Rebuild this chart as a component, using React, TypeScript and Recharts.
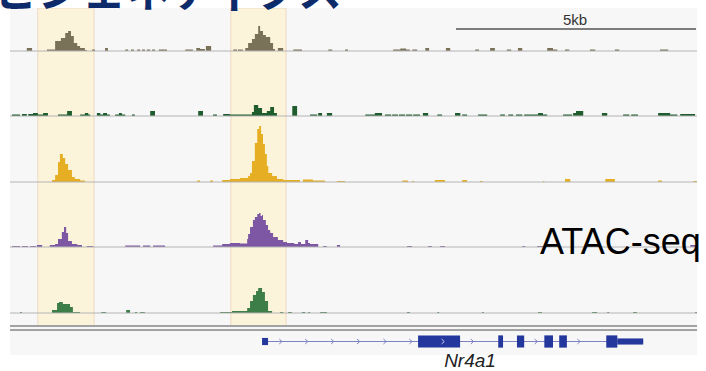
import {
  ComposedChart,
  Area,
  Line,
  Scatter,
  XAxis,
  YAxis,
  ReferenceArea,
  ReferenceLine,
} from "recharts";

// [start kb, signal] — signal holds until the next entry (bedGraph style)
type Step = [number, number];

const regionEnd = 14.31;

const track1: Step[] = [
  [0.35, 3], [0.46, 0],
  [0.77, 1.5], [0.94, 10], [1.06, 13], [1.15, 18], [1.21, 20], [1.27, 15], [1.33, 8], [1.4, 5], [1.46, 3], [1.56, 1], [1.6, 0],
  [1.71, 1.5], [1.77, 0], [1.98, 3], [2.04, 0],
  [2.4, 1.5], [2.46, 0], [2.52, 1.5], [2.58, 0], [2.65, 1.5], [2.71, 0], [2.75, 1.5], [2.81, 0],
  [2.85, 1.5], [2.92, 0], [2.96, 1.5], [3.02, 0], [3.1, 1.5], [3.27, 0],
  [3.65, 1.5], [3.81, 0], [3.88, 3], [3.96, 2], [4.06, 0], [4.08, 5], [4.19, 0],
  [4.65, 1.5], [4.73, 0], [4.75, 1.5], [4.85, 0],
  [4.9, 3], [4.96, 8], [5.04, 12], [5.1, 17], [5.17, 25], [5.21, 20], [5.27, 16], [5.33, 14], [5.42, 8], [5.48, 2], [5.52, 0],
  [5.58, 3], [5.69, 0], [5.9, 1.5], [6.08, 0],
  [6.63, 1.5], [6.71, 0], [6.98, 1.5], [7.04, 0],
  [7.98, 1.5], [8.13, 2.5], [8.25, 1.5], [8.33, 0], [8.38, 1.5], [8.48, 0],
  [8.65, 3], [8.73, 0], [9.08, 3], [9.17, 0], [9.69, 1.5], [9.77, 0],
  [10.0, 3], [10.1, 0], [10.35, 1.5], [10.44, 0], [10.58, 3], [10.67, 0],
  [11.19, 3], [11.31, 1.5], [11.4, 0], [11.56, 1.5], [11.65, 0],
  [12.08, 1.5], [12.19, 0], [12.6, 1.5], [12.69, 0], [13.54, 1.5], [13.71, 0],
];

const track2: Step[] = [
  [0.04, 1.5], [0.21, 0], [0.25, 2], [0.35, 0], [0.38, 2], [0.48, 3], [0.58, 1.5], [0.69, 3], [0.79, 0],
  [1.0, 1.5], [1.19, 5], [1.29, 0],
  [1.46, 1.5], [1.56, 3], [1.63, 1.5], [1.67, 0],
  [1.81, 3], [1.88, 1.5], [1.94, 3], [2.02, 1.5], [2.08, 0],
  [2.19, 1.5], [2.27, 3], [2.33, 1.5], [2.4, 0], [2.54, 1.5], [2.6, 0],
  [2.92, 5], [3.02, 0], [3.92, 5], [4.02, 0], [4.23, 1.5], [4.31, 0],
  [4.44, 2], [4.58, 1.5], [5.04, 4], [5.08, 11], [5.17, 8], [5.25, 3], [5.35, 5], [5.42, 9], [5.5, 3], [5.56, 0],
  [5.88, 10], [5.98, 0],
  [6.25, 1.5], [6.4, 0], [6.42, 3], [6.5, 0], [6.6, 3], [6.71, 0],
  [7.4, 1.5], [7.6, 3], [7.75, 0],
  [7.81, 1.5], [7.94, 0], [7.96, 1.5], [8.08, 0], [8.1, 1.5], [8.23, 0], [8.25, 1.5], [8.38, 0], [8.4, 1.5], [8.54, 0],
  [8.6, 3], [8.71, 0], [8.9, 1.5], [9.0, 0],
  [9.27, 3], [9.38, 0], [9.42, 1.5], [9.52, 0], [9.75, 1.5], [9.94, 0],
  [10.21, 1.5], [10.31, 0], [10.38, 1.5], [10.48, 0], [10.54, 1.5], [10.67, 0], [10.71, 1.5], [11.0, 3], [11.1, 1.5], [11.19, 0],
  [11.52, 1.5], [11.71, 0], [11.73, 3], [11.79, 5], [11.94, 0],
  [12.33, 3], [12.44, 0], [12.77, 1.5], [12.9, 0], [12.94, 1.5], [13.08, 0],
  [13.5, 3], [13.75, 1.5], [13.9, 0], [13.96, 2], [14.27, 0],
];

const track3: Step[] = [
  [0.875, 2], [0.94, 7], [1.0, 20], [1.04, 28], [1.1, 24], [1.15, 18], [1.21, 12], [1.29, 5], [1.35, 3], [1.46, 1.5], [1.56, 0],
  [3.9, 1.5], [3.96, 0], [4.17, 1.5], [4.23, 0],
  [4.42, 2], [4.58, 3], [4.79, 4], [4.96, 6], [5.0, 9], [5.04, 21], [5.1, 39], [5.15, 53], [5.19, 56], [5.23, 48],
  [5.27, 38], [5.31, 28], [5.35, 16], [5.38, 9], [5.46, 6], [5.56, 3], [5.69, 2], [6.04, 0], [6.1, 2.5], [6.31, 1.5], [6.56, 0],
  [6.81, 1], [6.98, 0],
  [8.17, 1.5], [8.29, 0], [8.38, 1], [8.42, 0], [8.85, 2], [9.06, 0], [9.42, 2], [9.52, 0], [9.79, 1], [9.85, 0],
  [11.1, 1], [11.13, 0], [11.56, 3], [11.67, 0], [12.4, 3], [12.6, 0], [13.5, 1.5], [13.58, 0], [14.23, 1], [14.31, 0],
];

const track4: Step[] = [
  [0.04, 1], [0.21, 0], [0.25, 1], [0.375, 0], [0.42, 1], [0.54, 0], [0.56, 2], [0.67, 0],
  [0.83, 2], [0.94, 3], [1.0, 8], [1.08, 15], [1.125, 20], [1.17, 14], [1.21, 6], [1.29, 3], [1.4, 2], [1.5, 0],
  [1.6, 1], [1.73, 0],
  [2.4, 1.5], [2.71, 0], [2.77, 1.5], [2.92, 0], [2.98, 1.5], [3.23, 0],
  [4.23, 1.5], [4.42, 3], [4.58, 4], [4.79, 3.5], [4.94, 8], [4.96, 13], [5.0, 20], [5.06, 27], [5.1, 30], [5.15, 33],
  [5.19, 34], [5.22, 31], [5.25, 32], [5.27, 27], [5.33, 22], [5.375, 17], [5.42, 14], [5.48, 10], [5.58, 7], [5.69, 5],
  [5.77, 4], [5.92, 3], [6.0, 5], [6.06, 3], [6.15, 7], [6.21, 4], [6.25, 3], [6.42, 0],
  [6.52, 1], [6.6, 0], [6.81, 2], [6.875, 0],
  [8.27, 1], [8.375, 0], [8.71, 1], [8.79, 0], [8.96, 1], [9.06, 0], [10.67, 1], [10.73, 0], [10.98, 1], [11.25, 0],
  [14.17, 2], [14.31, 0],
];

const track5: Step[] = [
  [0.21, 1], [0.25, 0],
  [0.875, 3], [0.98, 10], [1.02, 11], [1.1, 9], [1.19, 9], [1.25, 6], [1.31, 1], [1.46, 0],
  [1.9, 1], [2.0, 0], [2.42, 3], [2.5, 0], [2.6, 1], [2.65, 0], [2.71, 1], [2.81, 0],
  [4.375, 1], [4.625, 2], [4.94, 5], [5.0, 12], [5.06, 18], [5.125, 22], [5.17, 25], [5.25, 21], [5.31, 12], [5.375, 2], [5.46, 0],
  [5.625, 1], [5.69, 0], [5.79, 1], [5.875, 0], [6.08, 1], [6.15, 0], [6.21, 1], [6.25, 0], [6.46, 1], [6.6, 0],
  [8.27, 1], [8.33, 0], [8.9, 1], [8.94, 0], [9.83, 1], [9.87, 0], [11.0, 1], [11.08, 0],
  [12.125, 1], [12.23, 0], [12.44, 1], [12.48, 0], [12.98, 1], [13.06, 0], [14.27, 1], [14.31, 0],
];

const tracks = [track1, track2, track3, track4, track5];
const trackColors = ["#7a7258", "#1f5c2e", "#e6ae22", "#7d57a3", "#3d7d47"];

// highlighted regions, kb
const highlights: [number, number][] = [
  [0.58, 1.75],
  [4.6, 5.75],
];

const scaleBar = [9.29, 14.29]; // 5kb

// Nr4a1 gene model
const geneSpan = [5.25, 13.19];
const exons: [number, number, number][] = [
  [5.25, 5.375, 0.42],
  [8.5, 9.375, 0.72],
  [10.17, 10.27, 0.72],
  [10.56, 10.71, 0.72],
  [11.13, 11.31, 0.72],
  [11.44, 11.6, 0.72],
  [12.42, 12.65, 0.72],
  [12.65, 13.19, 0.36],
];
const intronArrows = [5.64, 6.18, 6.72, 7.26, 7.81, 8.35, 9.63, 10.96, 11.85];
const exonArrows = [9.02];

const W = 687;
const baselines = [51, 116, 182, 247, 313];

const xAxis = (
  <XAxis type="number" dataKey="kb" domain={[0, regionEnd]} hide allowDataOverflow />
);

function Track({ steps, color, baseline }: { steps: Step[]; color: string; baseline: number }) {
  const data = steps.map(([kb, v]) => ({ kb, v }));
  return (
    <div style={{ position: "absolute", left: 10, top: baseline - 60 }}>
      <ComposedChart width={W} height={62} data={data} margin={{ top: 0, right: 0, bottom: 2, left: 0 }}>
        {xAxis}
        <YAxis type="number" domain={[0, 60]} hide allowDataOverflow />
        <ReferenceLine y={0} stroke="#b4b4b4" strokeWidth={1} />
        <Area
          type="stepAfter"
          dataKey="v"
          fill={color}
          fillOpacity={1}
          stroke="none"
          dot={false}
          activeDot={false}
          isAnimationActive={false}
        />
      </ComposedChart>
    </div>
  );
}

const chevron = (color: string) => (props: any) => {
  const { cx, cy } = props;
  return (
    <path
      d={`M${cx - 1.5},${cy - 2.5}L${cx + 1.2},${cy}L${cx - 1.5},${cy + 2.5}`}
      fill="none"
      stroke={color}
      strokeWidth={1}
    />
  );
};

export default function App() {
  const hlData = highlights.flat().map((kb) => ({ kb, y: 0.5 }));
  const barData = scaleBar.map((kb) => ({ kb, y: 0 }));
  return (
    <div
      style={{
        position: "absolute",
        left: 0,
        top: 0,
        width: 706,
        height: 371,
        background: "#fff",
        overflow: "hidden",
      }}
    >
      <div style={{ position: "absolute", left: 10, top: 8, width: W, height: 347, background: "#f7f7f7" }} />

      <div style={{ position: "absolute", left: 10, top: 8 }}>
        <ComposedChart width={W} height={318} data={hlData} margin={{ top: 0, right: 0, bottom: 0, left: 0 }}>
          {xAxis}
          <YAxis type="number" dataKey="y" domain={[0, 1]} hide allowDataOverflow />
          <Line dataKey="y" stroke="none" dot={false} activeDot={false} isAnimationActive={false} />
          {highlights.map(([a, b]) => (
            <ReferenceArea
              key={a}
              x1={a}
              x2={b}
              y1={0}
              y2={1}
              fill="#fbf4da"
              fillOpacity={1}
              stroke="#f0d8c2"
              strokeWidth={1}
              ifOverflow="visible"
            />
          ))}
        </ComposedChart>
      </div>

      <div style={{ position: "absolute", left: 10, top: 8 }}>
        <ComposedChart width={W} height={22} data={barData} margin={{ top: 0, right: 0, bottom: 1, left: 0 }}>
          {xAxis}
          <YAxis type="number" domain={[0, 1]} hide />
          <Line dataKey="y" stroke="#555" strokeWidth={1.5} dot={false} isAnimationActive={false} />
        </ComposedChart>
      </div>

      {tracks.map((t, i) => (
        <Track key={i} steps={t} color={trackColors[i]} baseline={baselines[i]} />
      ))}

      <div style={{ position: "absolute", left: 10, top: 325, width: W, height: 2, background: "#a2a2a2" }} />
      <div style={{ position: "absolute", left: 10, top: 329, width: W, height: 2, background: "#a2a2a2" }} />

      <div style={{ position: "absolute", left: 10, top: 333 }}>
        <ComposedChart width={W} height={17} margin={{ top: 0, right: 0, bottom: 0, left: 0 }}>
          {xAxis}
          <YAxis type="number" dataKey="y" domain={[-1, 1]} hide />
          <ReferenceArea
            x1={geneSpan[0]}
            x2={geneSpan[1]}
            y1={-0.06}
            y2={0.06}
            fill="#7d82c2"
            fillOpacity={1}
            stroke="none"
          />
          {exons.map(([a, b, h]) => (
            <ReferenceArea key={a} x1={a} x2={b} y1={-h} y2={h} fill="#24379c" fillOpacity={1} stroke="none" />
          ))}
          <Scatter
            data={intronArrows.map((kb) => ({ kb, y: 0 }))}
            dataKey="y"
            shape={chevron("#7d82c2")}
            isAnimationActive={false}
          />
          <Scatter
            data={exonArrows.map((kb) => ({ kb, y: 0 }))}
            dataKey="y"
            shape={chevron("#c8ccf0")}
            isAnimationActive={false}
          />
        </ComposedChart>
      </div>

      <svg width={706} height={371} style={{ position: "absolute", left: 0, top: 0, pointerEvents: "none" }}>
        <text
          x={-50}
          y={7}
          fontSize={44}
          fontWeight="bold"
          fontFamily="'Noto Sans CJK JP', sans-serif"
          fill="#0d2b6b"
        >
          エピジェネティクス
        </text>
        <text x={575} y={25} fontSize={15} textAnchor="middle" fontFamily="'Liberation Sans', Arial, sans-serif" fill="#333">
          5kb
        </text>
        <text x={540} y={254} fontSize={36} fontFamily="'Liberation Sans', Arial, sans-serif" fill="#000">
          ATAC-seq
        </text>
        <text
          x={470}
          y={367}
          fontSize={19}
          fontStyle="italic"
          textAnchor="middle"
          fontFamily="'Liberation Sans', Arial, sans-serif"
          fill="#222"
        >
          Nr4a1
        </text>
      </svg>
    </div>
  );
}
